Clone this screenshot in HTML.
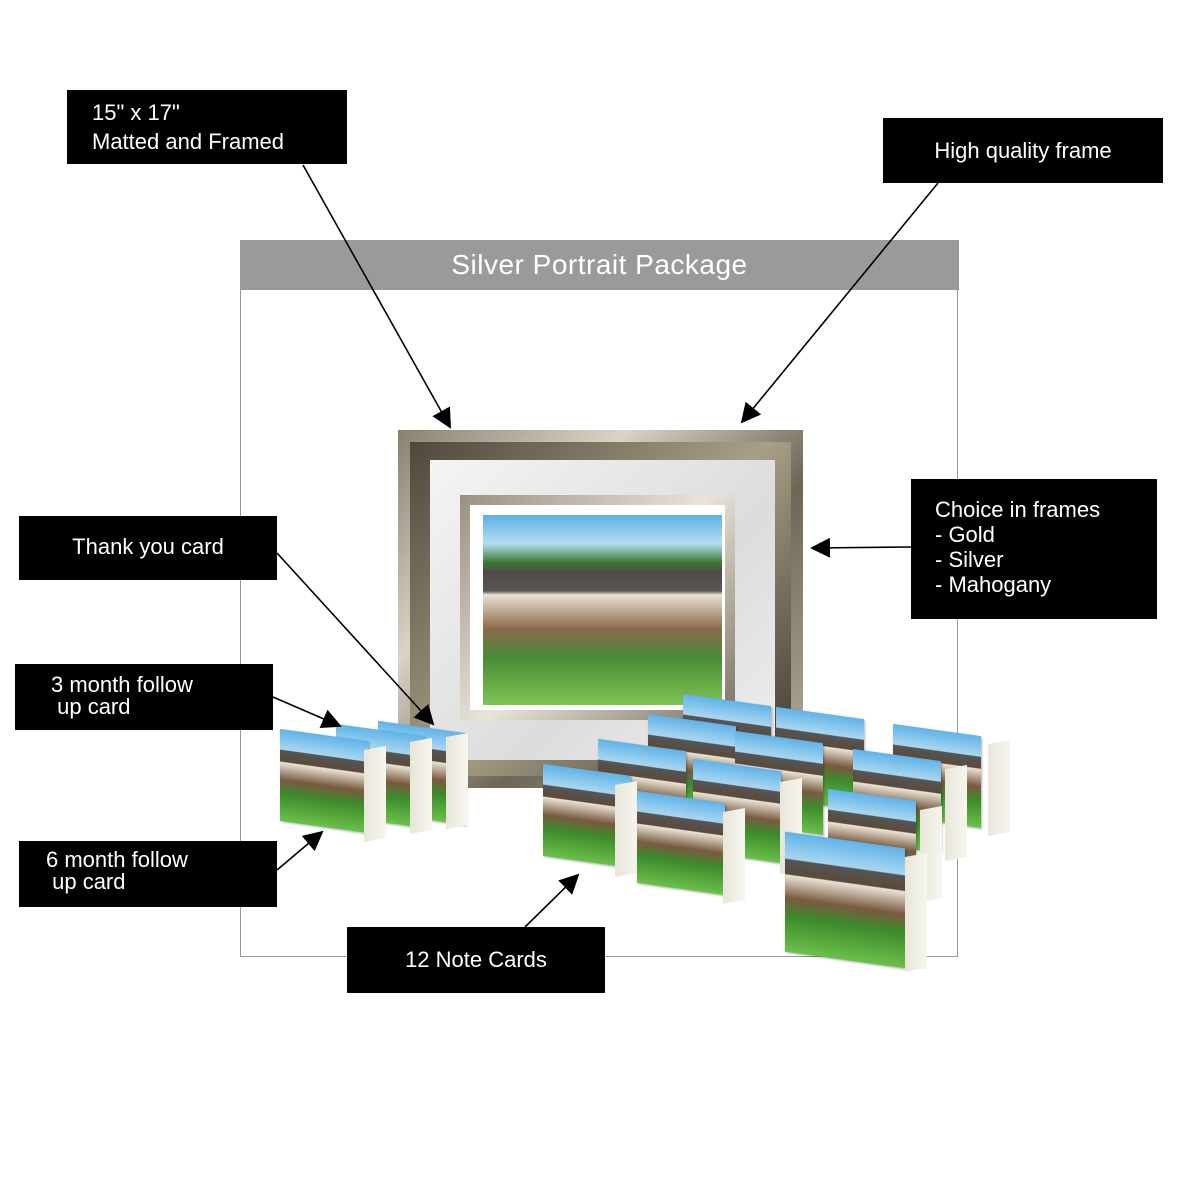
<!DOCTYPE html>
<html><head><meta charset="utf-8"><style>
body{margin:0;width:1200px;height:1200px;background:#fff;position:relative;overflow:hidden;font-family:"Liberation Sans",sans-serif}
.b{position:absolute;background:#000;color:#fff;font-size:22px;line-height:25px;box-sizing:border-box}
.card{position:absolute;width:88px;height:92px;background:linear-gradient(#5fb3e8 0%,#a9d6f0 22%,#555 23%,#5a4a3a 35%,#e9e3d6 36%,#7a5a40 55%,#3c8a2c 70%,#6cc04a 100%);box-shadow:1px 1px 2px rgba(0,0,0,.3)}
.tent{position:absolute;width:22px;height:92px;background:linear-gradient(90deg,#e8e6d8,#f7f6ee)}
</style></head><body>
<div style="position:absolute;left:240px;top:240px;width:718px;height:717px;border:1.5px solid #999;box-sizing:border-box"></div>
<div style="position:absolute;left:240px;top:240px;width:719px;height:50px;background:#9a9a9a;color:#fff;font-size:28px;text-align:center;line-height:50px;letter-spacing:.5px">Silver Portrait Package</div>

<!-- frame -->
<div style="position:absolute;left:398px;top:430px;width:405px;height:358px;background:linear-gradient(135deg,#8a8070,#d9d4c8 30%,#6d6556 60%,#b9b2a2);"></div>
<div style="position:absolute;left:410px;top:442px;width:381px;height:334px;background:linear-gradient(135deg,#4e473c,#a99f86 50%,#3d372e)"></div>
<div style="position:absolute;left:430px;top:460px;width:345px;height:300px;background:linear-gradient(135deg,#f4f4f4,#dcdcdc 60%,#eee)"></div>
<div style="position:absolute;left:460px;top:495px;width:275px;height:225px;background:linear-gradient(135deg,#9a9080,#e8e4d8,#7a7262)"></div>
<div style="position:absolute;left:470px;top:505px;width:255px;height:205px;background:#fff"></div>
<div style="position:absolute;left:483px;top:515px;width:239px;height:190px;background:linear-gradient(#5db0e6 0%,#b5dcf2 15%,#3a7a30 25%,#504a48 30%,#5a5552 40%,#e8e2d4 42%,#8a6a4a 60%,#4a8a38 75%,#7ec452 100%)"></div>

<!-- small cards left -->
<div class="card" style="left:378px;top:727px;transform:skewY(8deg)"></div><div class="tent" style="left:446px;top:735px;transform:skewY(-10deg)"></div>
<div class="card" style="left:336px;top:730px;transform:skewY(8deg)"></div><div class="tent" style="left:410px;top:740px;transform:skewY(-10deg)"></div>
<div class="card" style="left:280px;top:735px;transform:skewY(8deg)"></div><div class="tent" style="left:364px;top:748px;transform:skewY(-10deg)"></div>

<!-- note cards -->
<div class="card" style="left:683px;top:700px;transform:skewY(8deg)"></div>
<div class="card" style="left:776px;top:713px;transform:skewY(8deg)"></div>
<div class="card" style="left:893px;top:730px;transform:skewY(8deg)"></div><div class="tent" style="left:988px;top:742px;transform:skewY(-10deg)"></div>
<div class="card" style="left:648px;top:720px;transform:skewY(8deg)"></div>
<div class="card" style="left:735px;top:737px;transform:skewY(8deg)"></div>
<div class="card" style="left:853px;top:755px;transform:skewY(8deg)"></div><div class="tent" style="left:945px;top:767px;transform:skewY(-10deg)"></div>
<div class="card" style="left:598px;top:745px;transform:skewY(8deg)"></div>
<div class="card" style="left:693px;top:765px;transform:skewY(8deg)"></div><div class="tent" style="left:780px;top:780px;transform:skewY(-10deg)"></div>
<div class="card" style="left:828px;top:795px;transform:skewY(8deg)"></div><div class="tent" style="left:920px;top:808px;transform:skewY(-10deg)"></div>
<div class="card" style="left:543px;top:770px;transform:skewY(8deg)"></div><div class="tent" style="left:615px;top:783px;transform:skewY(-10deg)"></div>
<div class="card" style="left:637px;top:797px;transform:skewY(8deg)"></div><div class="tent" style="left:723px;top:810px;transform:skewY(-10deg)"></div>
<div class="card" style="left:785px;top:840px;width:120px;height:120px;transform:skewY(8deg)"></div><div class="tent" style="left:905px;top:855px;height:115px;transform:skewY(-10deg)"></div>

<svg style="position:absolute;left:0;top:0" width="1200" height="1200">
<defs><marker id="a" markerWidth="10" markerHeight="10" refX="9" refY="5" orient="auto" markerUnits="userSpaceOnUse" viewBox="0 0 10 10"><path d="M0,0L10,5L0,10z" fill="#000" transform="scale(1)"/></marker>
<marker id="m" viewBox="0 0 10 10" refX="9" refY="5" markerWidth="20" markerHeight="20" orient="auto" markerUnits="userSpaceOnUse"><path d="M0,0L10,5L0,10z"/></marker></defs>
<g stroke="#000" stroke-width="1.6" fill="none" marker-end="url(#m)">
<line x1="303" y1="165" x2="450" y2="427"/>
<line x1="938" y1="183" x2="742" y2="422"/>
<line x1="911" y1="547" x2="812" y2="548"/>
<line x1="277" y1="553" x2="433" y2="724"/>
<line x1="273" y1="697" x2="340" y2="726"/>
<line x1="277" y1="870" x2="322" y2="832"/>
<line x1="525" y1="927" x2="578" y2="875"/>
</g></svg>

<div class="b" style="left:67px;top:90px;width:280px;height:74px;padding:8px 0 0 25px;line-height:29px">15" x 17"<br>Matted and Framed</div>
<div class="b" style="left:883px;top:118px;width:280px;height:65px;text-align:center;line-height:65px">High quality frame</div>
<div class="b" style="left:911px;top:479px;width:246px;height:140px;padding:18px 0 0 24px">Choice in frames<br>- Gold<br>- Silver<br>- Mahogany</div>
<div class="b" style="left:19px;top:516px;width:258px;height:64px;text-align:center;line-height:62px">Thank you card</div>
<div class="b" style="left:15px;top:664px;width:258px;height:66px;padding:10px 0 0 36px;line-height:22px">3 month follow<br>&nbsp;up card</div>
<div class="b" style="left:19px;top:841px;width:258px;height:66px;padding:8px 0 0 27px;line-height:22px">6 month follow<br>&nbsp;up card</div>
<div class="b" style="left:347px;top:927px;width:258px;height:66px;text-align:center;line-height:66px">12 Note Cards</div>
</body></html>
